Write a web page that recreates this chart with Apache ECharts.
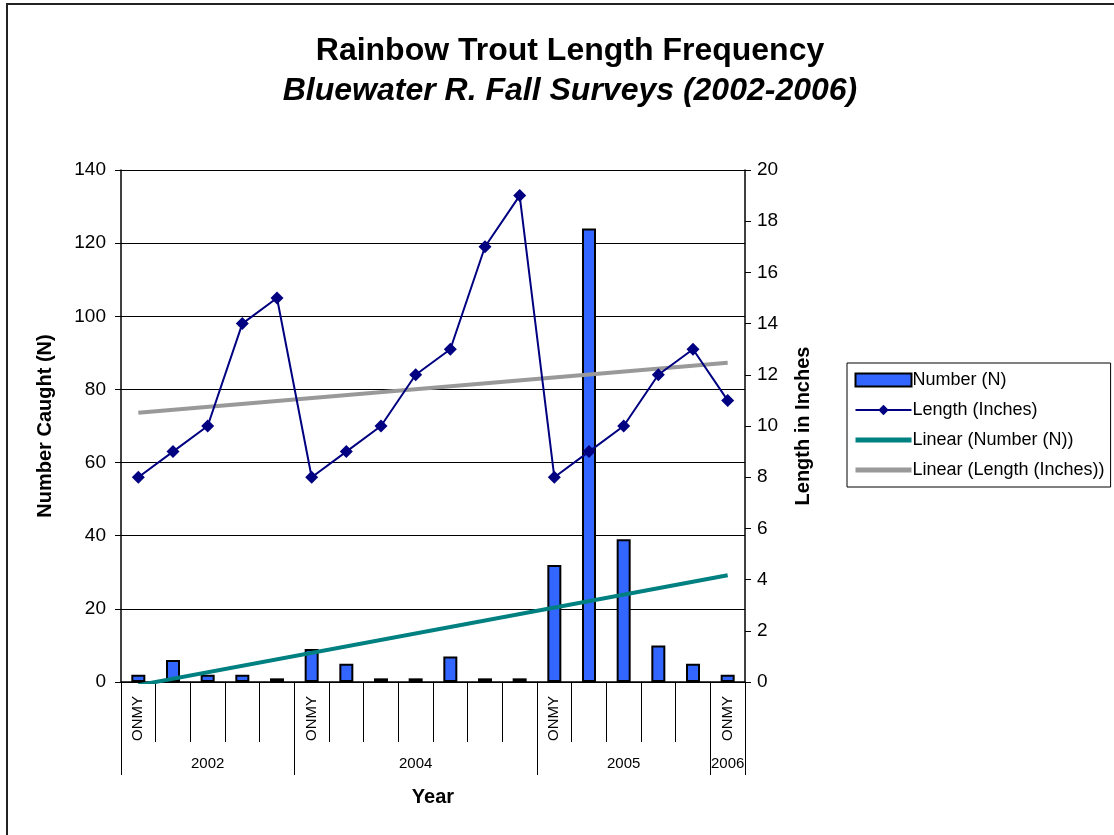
<!DOCTYPE html>
<html>
<head>
<meta charset="utf-8">
<script src="https://cdn.jsdelivr.net/npm/echarts@6/dist/echarts.min.js"></script>
<style>html,body{margin:0;padding:0;background:#fff;}#c{width:1114px;height:835px;}</style>
</head>
<body>
<div id="c"></div>
<script>
// ---- data ----
const species = ['ONMY','','','','','ONMY','','','','','','','ONMY','','','','','ONMY'];
const numberCaught = [2, 6, 2, 2, 1, 9, 5, 1, 1, 7, 1, 1, 32, 124, 39, 10, 5, 2];
const lengthInches = [8, 9, 10, 14, 15, 8, 9, 10, 12, 13, 17, 19, 8, 9, 10, 12, 13, 11];
const groupYears = ['2002', '2004', '2005', '2006'];
const groupSizes = [5, 7, 5, 1];
// trendline end values (first and last category)
const trendNumberEnds = [-0.87, 29.2];
const trendLengthEnds = [10.52, 12.47];
const leftTicks = { min: 0, max: 140, interval: 20 };
const rightTicks = { min: 0, max: 20, interval: 2 };

const cats = species.map((s, i) => String(i));
const groupStarts = [];
const groupLabelAt = {};
let acc = 0;
groupSizes.forEach((n, g) => {
  groupStarts.push(acc);
  groupLabelAt[acc + Math.floor((n - 1) / 2)] = groupYears[g];
  acc += n;
});
const last = cats.length - 1;

const FONT = 'Liberation Sans, Arial, sans-serif';
const chart = echarts.init(document.getElementById('c'), null, { renderer: 'canvas' });
chart.setOption({
  backgroundColor: '#fff',
  animation: false,
  textStyle: { fontFamily: FONT, color: '#000' },
  title: {
    text: 'Rainbow Trout Length Frequency',
    subtext: 'Bluewater R. Fall Surveys (2002-2006)',
    left: 565, top: 30, textAlign: 'center',
    itemGap: 8,
    textStyle: { fontFamily: FONT, fontSize: 32, fontWeight: 'bold', color: '#000' },
    subtextStyle: { fontFamily: FONT, fontSize: 32, fontWeight: 'bold', fontStyle: 'italic', color: '#000' }
  },
  graphic: [{
    type: 'rect', shape: { x: 7, y: 4, width: 1200, height: 900 },
    style: { fill: 'none', stroke: '#222', lineWidth: 2 }, silent: true, z: 100
  }],
  legend: {
    orient: 'vertical', left: 847, top: 363,
    width: 262,
    padding: [8, 6, 8, 6],
    borderColor: '#000', borderWidth: 1,
    itemWidth: 56, itemHeight: 13, itemGap: 12,
    textStyle: { fontFamily: FONT, fontSize: 18, lineHeight: 18, color: '#000', padding: [0, 0, 0, -4] },
    data: [
      { name: 'Number (N)', icon: 'rect' },
      { name: 'Length (Inches)' },
      { name: 'Linear (Number (N))', itemStyle: { opacity: 0 }, lineStyle: { width: 5 } },
      { name: 'Linear (Length (Inches))', itemStyle: { opacity: 0 }, lineStyle: { width: 5 } }
    ]
  },
  grid: { left: 121, right: 369, top: 170, bottom: 153, containLabel: false },
  xAxis: [{
    type: 'category', data: cats, position: 'bottom', boundaryGap: true,
    axisLine: { lineStyle: { color: '#000', width: 1.5 } },
    axisTick: { show: true, length: 60, interval: 0, lineStyle: { color: '#000' } },
    axisLabel: {
      interval: 0, rotate: 90, margin: 14, fontSize: 15, fontFamily: FONT, color: '#000',
      formatter: (v, i) => species[i]
    },
    splitLine: { show: false }
  }, {
    type: 'category', data: cats, position: 'bottom', boundaryGap: true,
    name: 'Year', nameLocation: 'middle', nameGap: 105,
    nameTextStyle: { fontFamily: FONT, fontSize: 20, fontWeight: 'bold', color: '#000' },
    axisLine: { show: false },
    axisTick: {
      show: true, length: 93, lineStyle: { color: '#000' },
      interval: (i) => groupStarts.indexOf(i) >= 0
    },
    axisLabel: {
      interval: 0, margin: 74, fontSize: 15, fontFamily: FONT, color: '#000',
      formatter: (v, i) => groupLabelAt[i] || ''
    },
    splitLine: { show: false }
  }],
  yAxis: [{
    type: 'value', position: 'left',
    min: leftTicks.min, max: leftTicks.max, interval: leftTicks.interval,
    name: 'Number Caught (N)', nameLocation: 'middle', nameGap: 66,
    nameTextStyle: { fontFamily: FONT, fontSize: 20, fontWeight: 'bold', color: '#000' },
    axisLine: { show: true, lineStyle: { color: '#000', width: 1.5 } },
    axisTick: { show: true, length: 6, lineStyle: { color: '#000' } },
    axisLabel: { fontSize: 19, fontFamily: FONT, color: '#000', margin: 15 },
    splitLine: { show: true, lineStyle: { color: '#000', width: 1 } }
  }, {
    type: 'value', position: 'right',
    min: rightTicks.min, max: rightTicks.max, interval: rightTicks.interval,
    name: 'Length in Inches', nameLocation: 'middle', nameGap: 48,
    nameTextStyle: { fontFamily: FONT, fontSize: 20, fontWeight: 'bold', color: '#000' },
    axisLine: { show: true, lineStyle: { color: '#000', width: 1.5 } },
    axisTick: { show: true, length: 6, lineStyle: { color: '#000' } },
    axisLabel: { fontSize: 19, fontFamily: FONT, color: '#000', margin: 12 },
    splitLine: { show: false }
  }],
  series: [{
    name: 'Number (N)', type: 'bar', xAxisIndex: 0, yAxisIndex: 0,
    data: numberCaught, barWidth: 14,
    itemStyle: { color: '#3366FF', borderColor: '#000', borderWidth: 2 },
    z: 2
  }, {
    name: 'Linear (Number (N))', type: 'line', xAxisIndex: 0, yAxisIndex: 0,
    data: [[cats[0], trendNumberEnds[0]], [cats[last], trendNumberEnds[1]]],
    symbol: 'none', clip: true,
    lineStyle: { color: '#008080', width: 4 },
    itemStyle: { color: '#008080' },
    z: 3
  }, {
    name: 'Linear (Length (Inches))', type: 'line', xAxisIndex: 0, yAxisIndex: 1,
    data: [[cats[0], trendLengthEnds[0]], [cats[last], trendLengthEnds[1]]],
    symbol: 'none',
    lineStyle: { color: '#999999', width: 4 },
    itemStyle: { color: '#999999' },
    z: 3
  }, {
    name: 'Length (Inches)', type: 'line', xAxisIndex: 0, yAxisIndex: 1,
    data: lengthInches,
    symbol: 'diamond', symbolSize: 13,
    lineStyle: { color: '#000080', width: 2 },
    itemStyle: { color: '#000080' },
    z: 4
  }]
});
</script>
</body>
</html>
